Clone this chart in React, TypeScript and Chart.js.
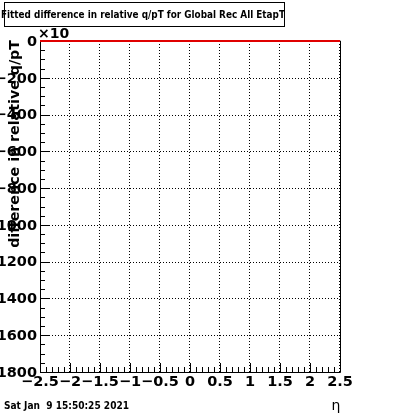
import React, { useEffect, useRef } from "react";
import { Chart, registerables } from "chart.js";

Chart.register(...registerables);

const etaValues = [-2.5, -2, -1.5, -1, -0.5, 0, 0.5, 1, 1.5, 2, 2.5];
const diffValues = [0, 0, 0, 0, 0, 0, 0, 0, 0, 0, 0];
const xTickValues = [-2.5, -2, -1.5, -1, -0.5, 0, 0.5, 1, 1.5, 2, 2.5];
const xTickLabels = ["\u22122.5", "\u22122", "\u22121.5", "\u22121", "\u22120.5", "0", "0.5", "1", "1.5", "2", "2.5"];
const yTickValues = [0, -200, -400, -600, -800, -1000, -1200, -1400, -1600, -1800];
const yTickLabels = ["0", "\u2212200", "\u2212400", "\u2212600", "\u2212800", "\u22121000", "\u22121200", "\u22121400", "\u22121600", "\u22121800"];
const titleText = "Fitted difference in relative q/pT for Global Rec All EtapT";
const yTitle = "difference in relative q/pT";
const xTitle = "\u03b7";
const exponentText = "\u00d710";
const dateText = "Sat Jan  9 15:50:25 2021";

const FONT = "'DejaVu Sans', sans-serif";

function fitText(ctx: any, text: string, size: number, targetW: number, x: number, y: number, align: string) {
  ctx.save();
  ctx.font = `bold ${size}px ${FONT}`;
  const w = ctx.measureText(text).width;
  const s = targetW / w;
  ctx.translate(x, y);
  ctx.scale(s, 1);
  ctx.textAlign = align;
  ctx.textBaseline = "middle";
  ctx.fillText(text, 0, 0);
  ctx.restore();
}

const rootPlugin = {
  id: "rootStyle",
  beforeDraw(chart: any) {
    const { ctx, width, height } = chart;
    ctx.save();
    ctx.fillStyle = "#fff";
    ctx.fillRect(0, 0, width, height);
    ctx.restore();
  },
  beforeDatasetsDraw(chart: any) {
    const { ctx, chartArea, scales } = chart;
    const { left, right, top, bottom } = chartArea;
    const x = scales.x;
    const y = scales.y;
    ctx.save();
    ctx.strokeStyle = "#000";
    ctx.lineWidth = 1;
    ctx.setLineDash([1, 2]);
    ctx.beginPath();
    xTickValues.forEach((v, i) => {
      if (i === 0) return;
      const px = Math.round(x.getPixelForValue(v)) - 0.5;
      ctx.moveTo(px, top);
      ctx.lineTo(px, bottom);
    });
    yTickValues.forEach((v, i) => {
      if (i === 0 || i === yTickValues.length - 1) return;
      const py = Math.round(y.getPixelForValue(v)) + 0.5;
      ctx.moveTo(left, py);
      ctx.lineTo(right, py);
    });
    ctx.stroke();
    ctx.setLineDash([]);
    ctx.beginPath();
    ctx.moveTo(left + 0.5, top);
    ctx.lineTo(left + 0.5, bottom + 0.5);
    ctx.lineTo(right + 0.5, bottom + 0.5);
    ctx.lineTo(right + 0.5, top);
    ctx.lineTo(left + 0.5, top + 0.5);
    ctx.stroke();
    ctx.beginPath();
    const yMin = yTickValues[yTickValues.length - 1];
    const yMax = yTickValues[0];
    for (let v = yMin; v <= yMax; v += 50) {
      const py = Math.round(y.getPixelForValue(v)) + 0.5;
      const len = v % 200 === 0 ? 9 : 5;
      ctx.moveTo(left, py);
      ctx.lineTo(left + len, py);
    }
    for (let k = -25; k <= 25; k++) {
      const v = k / 10;
      const px = Math.round(x.getPixelForValue(v)) + 0.5;
      const len = k % 5 === 0 ? 9 : 5;
      ctx.moveTo(px, bottom);
      ctx.lineTo(px, bottom - len);
    }
    ctx.stroke();
    ctx.restore();
  },
  afterDraw(chart: any) {
    const { ctx, chartArea, scales } = chart;
    const { left, top, bottom } = chartArea;
    const x = scales.x;
    const y = scales.y;
    ctx.save();
    ctx.fillStyle = "#000";
    ctx.font = `bold 14.5px ${FONT}`;
    ctx.textAlign = "right";
    ctx.textBaseline = "middle";
    yTickValues.forEach((v, i) => {
      const py = y.getPixelForValue(v) + 1;
      ctx.fillText(yTickLabels[i], left - 3, py);
    });
    ctx.textAlign = "center";
    ctx.textBaseline = "middle";
    xTickValues.forEach((v, i) => {
      const px = x.getPixelForValue(v);
      ctx.fillText(xTickLabels[i], px, bottom + 10);
    });
    ctx.font = `bold 14px ${FONT}`;
    ctx.textAlign = "left";
    ctx.fillText(exponentText, left - 2, top - 7);
    ctx.save();
    ctx.translate(15, top - 1);
    ctx.rotate(-Math.PI / 2);
    ctx.font = `bold 14px ${FONT}`;
    const w = ctx.measureText(yTitle).width;
    const fs = 14 * (208 / w);
    ctx.font = `bold ${fs}px ${FONT}`;
    ctx.textAlign = "right";
    ctx.textBaseline = "middle";
    ctx.fillText(yTitle, 0, 0);
    ctx.restore();
    ctx.font = `14px ${FONT}`;
    ctx.textAlign = "center";
    ctx.textBaseline = "middle";
    ctx.fillText(xTitle, 336, 406);
    ctx.lineWidth = 1;
    ctx.strokeStyle = "#000";
    ctx.strokeRect(4.5, 2.5, 280, 24);
    fitText(ctx, titleText, 10, 284, 143, 15, "center");
    fitText(ctx, dateText, 10, 125, 4, 406, "left");
    ctx.restore();
  },
};

export default function App() {
  const canvasRef = useRef<HTMLCanvasElement>(null);
  useEffect(() => {
    if (!canvasRef.current) return;
    const chart = new Chart(canvasRef.current, {
      type: "line",
      data: {
        labels: etaValues,
        datasets: [
          {
            data: etaValues.map((e, i) => ({ x: e, y: diffValues[i] })),
            borderColor: "#e00000",
            borderWidth: 2,
            pointRadius: 0,
            fill: false,
            clip: 3,
          } as any,
        ],
      },
      options: {
        animation: false,
        responsive: false,
        events: [],
        layout: { padding: { left: 40, top: 41, right: 60, bottom: 42 } },
        plugins: { legend: { display: false }, tooltip: { enabled: false }, title: { display: false } },
        scales: {
          x: { type: "linear", min: -2.5, max: 2.5, display: false },
          y: { type: "linear", min: -1800, max: 0, display: false },
        },
      },
      plugins: [rootPlugin],
    });
    return () => chart.destroy();
  }, []);
  return (
    <div style={{ position: "absolute", left: 0, top: 0, width: 400, height: 414 }}>
      <canvas ref={canvasRef} width={400} height={414} style={{ width: 400, height: 414 }} />
    </div>
  );
}
